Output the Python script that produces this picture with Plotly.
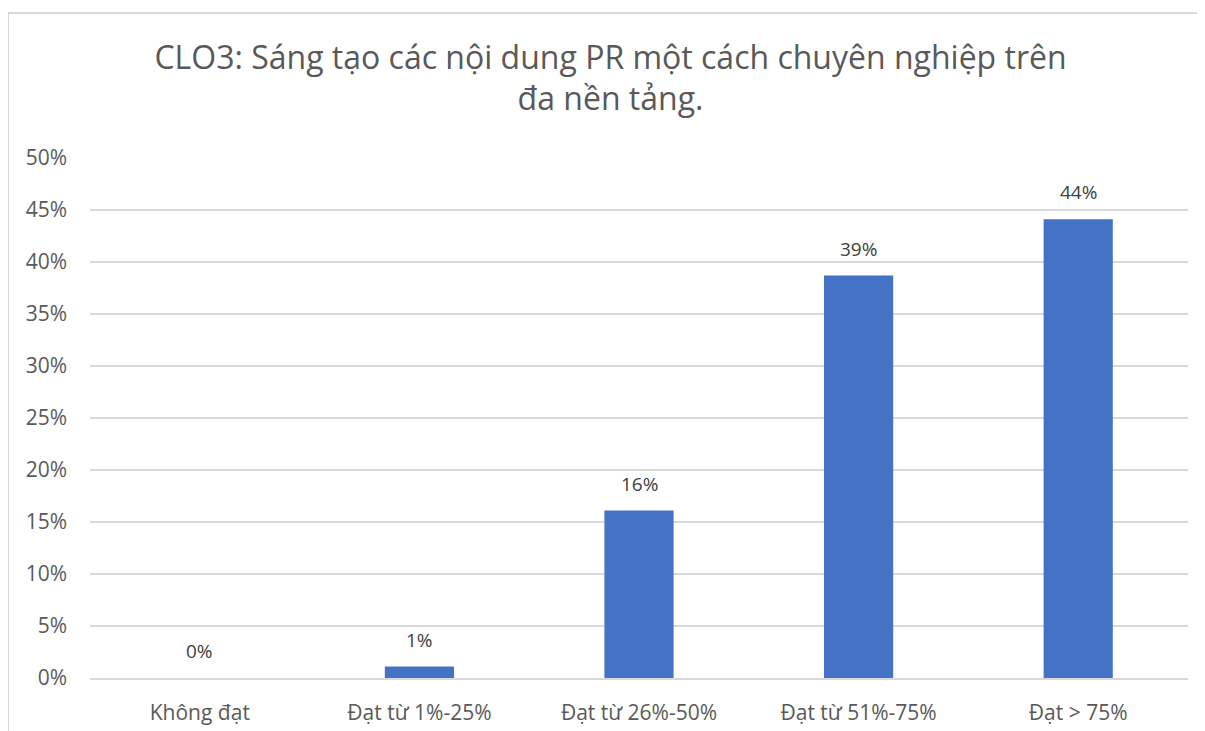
import plotly.graph_objects as go

categories = ["Không đạt", "Đạt từ 1%-25%", "Đạt từ 26%-50%", "Đạt từ 51%-75%", "Đạt > 75%"]
values = [0.0, 1.1, 16.1, 38.7, 44.1]
y_ticks = [0, 5, 10, 15, 20, 25, 30, 35, 40, 45, 50]
y_tick_labels = [f"{t}%" for t in y_ticks]
title_text = "CLO3: Sáng tạo các nội dung PR một cách chuyên nghiệp trên<br>đa nền tảng."

font_family = "Open Sans, Noto Sans, sans-serif"

# page body adds an 8px margin, so the figure is pulled up/left a bit
off_x, off_y = 8, 8
plot_l, plot_r, plot_t, plot_b = 90 - off_x, 1188 - off_x, 158 - off_y, 678 - off_y
W, H = 1205, 731
pw, ph = plot_r - plot_l, plot_b - plot_t

bars = go.Bar(x=categories, y=values,
              marker=dict(color="#4472c4", line=dict(width=0)))

fig = go.Figure(bars)

fig.update_layout(
    width=W, height=H,
    margin=dict(l=plot_l, r=W - plot_r, t=plot_t, b=H - plot_b),
    plot_bgcolor="#ffffff", paper_bgcolor="#ffffff",
    bargap=0.685,
    showlegend=False,
    title=dict(text=title_text, x=0.5, xanchor="center", y=0.917, yanchor="top",
               font=dict(size=32, color="#595959", family=font_family)),
)

# data labels above the bars
for cat, v in zip(categories, values):
    fig.add_annotation(x=cat, y=v, text=f"{round(v):.0f}%", showarrow=False,
                       yanchor="bottom", yshift=12,
                       font=dict(size=19, color="#404040", family=font_family))

fig.update_yaxes(range=[0, 50], tickvals=y_ticks, ticktext=y_tick_labels,
                 showgrid=True, gridcolor="#d9d9d9", gridwidth=1.5,
                 zeroline=False, showline=False,
                 tickfont=dict(size=21, color="#595959", family=font_family),
                 ticklabelstandoff=22)
fig.update_xaxes(showline=True, linecolor="#d9d9d9", linewidth=1.5,
                 tickfont=dict(size=21, color="#595959", family=font_family),
                 ticklabelstandoff=15)

# chart frame (right and bottom edges fall outside the picture)
fig.add_shape(type="rect", xref="paper", yref="paper",
              x0=(8 - off_x - plot_l) / pw, x1=1.05,
              y0=-0.3, y1=(plot_b - (13 - off_y)) / ph,
              line=dict(color="#d9d9d9", width=2), layer="below")

fig.write_html("out.html")
